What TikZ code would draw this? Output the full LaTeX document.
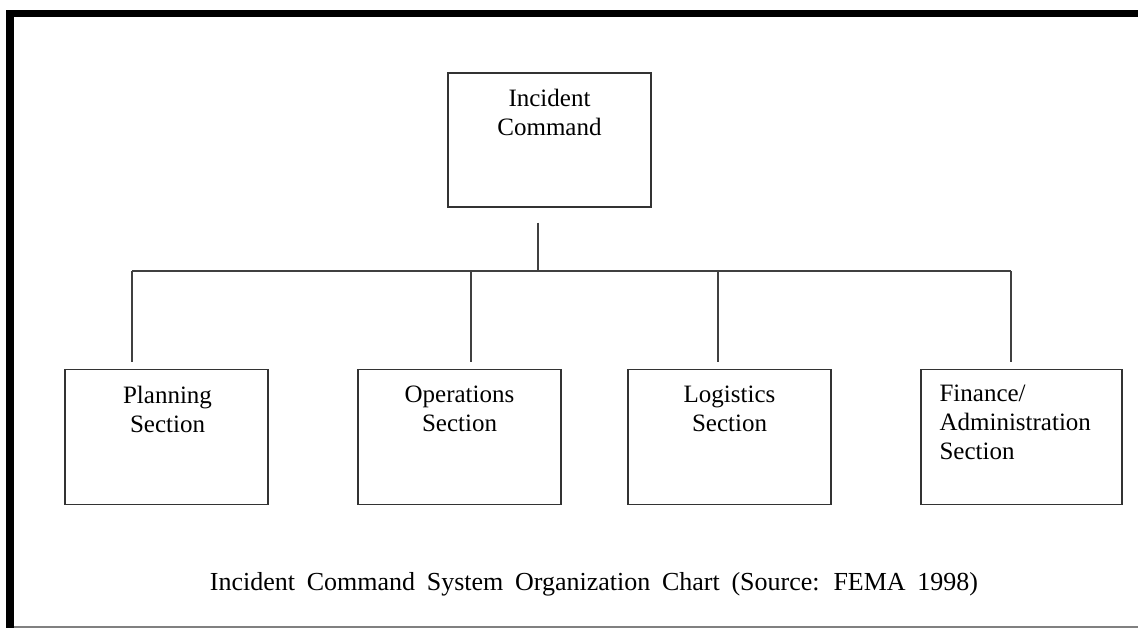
\documentclass[tikz,border=0pt]{standalone}
\usepackage{fontspec}
\setmainfont{Liberation Serif}
\newfontfamily\chartfont[WordSpace=1.8]{Liberation Serif}
\usepackage{tikz}
\usetikzlibrary{calc}

\tikzset{
  unit/.style={draw=black!80, line width=1.3pt, minimum width=203pt, minimum height=135pt, inner sep=0pt},
  wire/.style={draw=black!75, line width=1.3pt},
  caption/.style={inner sep=0pt, align=center, font=\fontsize{25}{29}\selectfont}
}

\begin{document}
\begin{tikzpicture}[x=1pt,y=-1pt]
	\useasboundingbox (0,0) rectangle (1138,628);
	% frame: heavy bars top and left, thin rule at the bottom
	\fill (6,10) rectangle (1138,17);
	\fill (6,10) rectangle (14,628);
	\draw[black!50, line width=1.2pt] (14,627) -- (1138,627);

	% command box and the four sections
	\node[unit, minimum height=134pt] (cmd) at (549.5,140) {};
	\node[caption, anchor=north] (cmdtxt) at ([shift={(0,17)}]cmd.north) {Incident\\Command};
	\node[unit] (plan) at (166.5,437) {};
	\node[unit] (ops)  at (459.5,437) {};
	\node[unit] (log)  at (729.5,437) {};
	\node[unit, minimum width=201pt] (fin) at (1021.5,437) {};
	\node[caption, anchor=north] (plantxt) at ([shift={(1,17)}]plan.north) {Planning\\Section};
	\node[caption, anchor=north] (opstxt) at ([shift={(0,17)}]ops.north) {Operations\\Section};
	\node[caption, anchor=north] (logtxt) at ([shift={(0,17)}]log.north) {Logistics\\Section};
	\node[caption, anchor=north west, align=left] (fintxt) at ([shift={(19,16)}]fin.north west) {Finance/\\Administration\\Section};

	% bus and stems
	\coordinate (busL) at (132,271);
	\coordinate (busR) at (1011,271);
	\draw[wire] (busL) -- (busR);
	\draw[wire] ([shift={(-11.5,15)}]cmd.south) -- ([xshift=-11.5pt]cmd.south |- busL);
	\foreach \n/\dx in {plan/-34.5, ops/11.5, log/-11.5, fin/-10.5}
		\draw[wire] ([shift={(\dx,-7)}]\n.north) -- ([shift={(\dx,0)}]\n.north |- busL);

	\node[caption, anchor=base, font=\chartfont\fontsize{26}{29}\selectfont] (title) at (594,590)
		{Incident Command System Organization Chart (Source: FEMA 1998)};
\end{tikzpicture}
\end{document}
